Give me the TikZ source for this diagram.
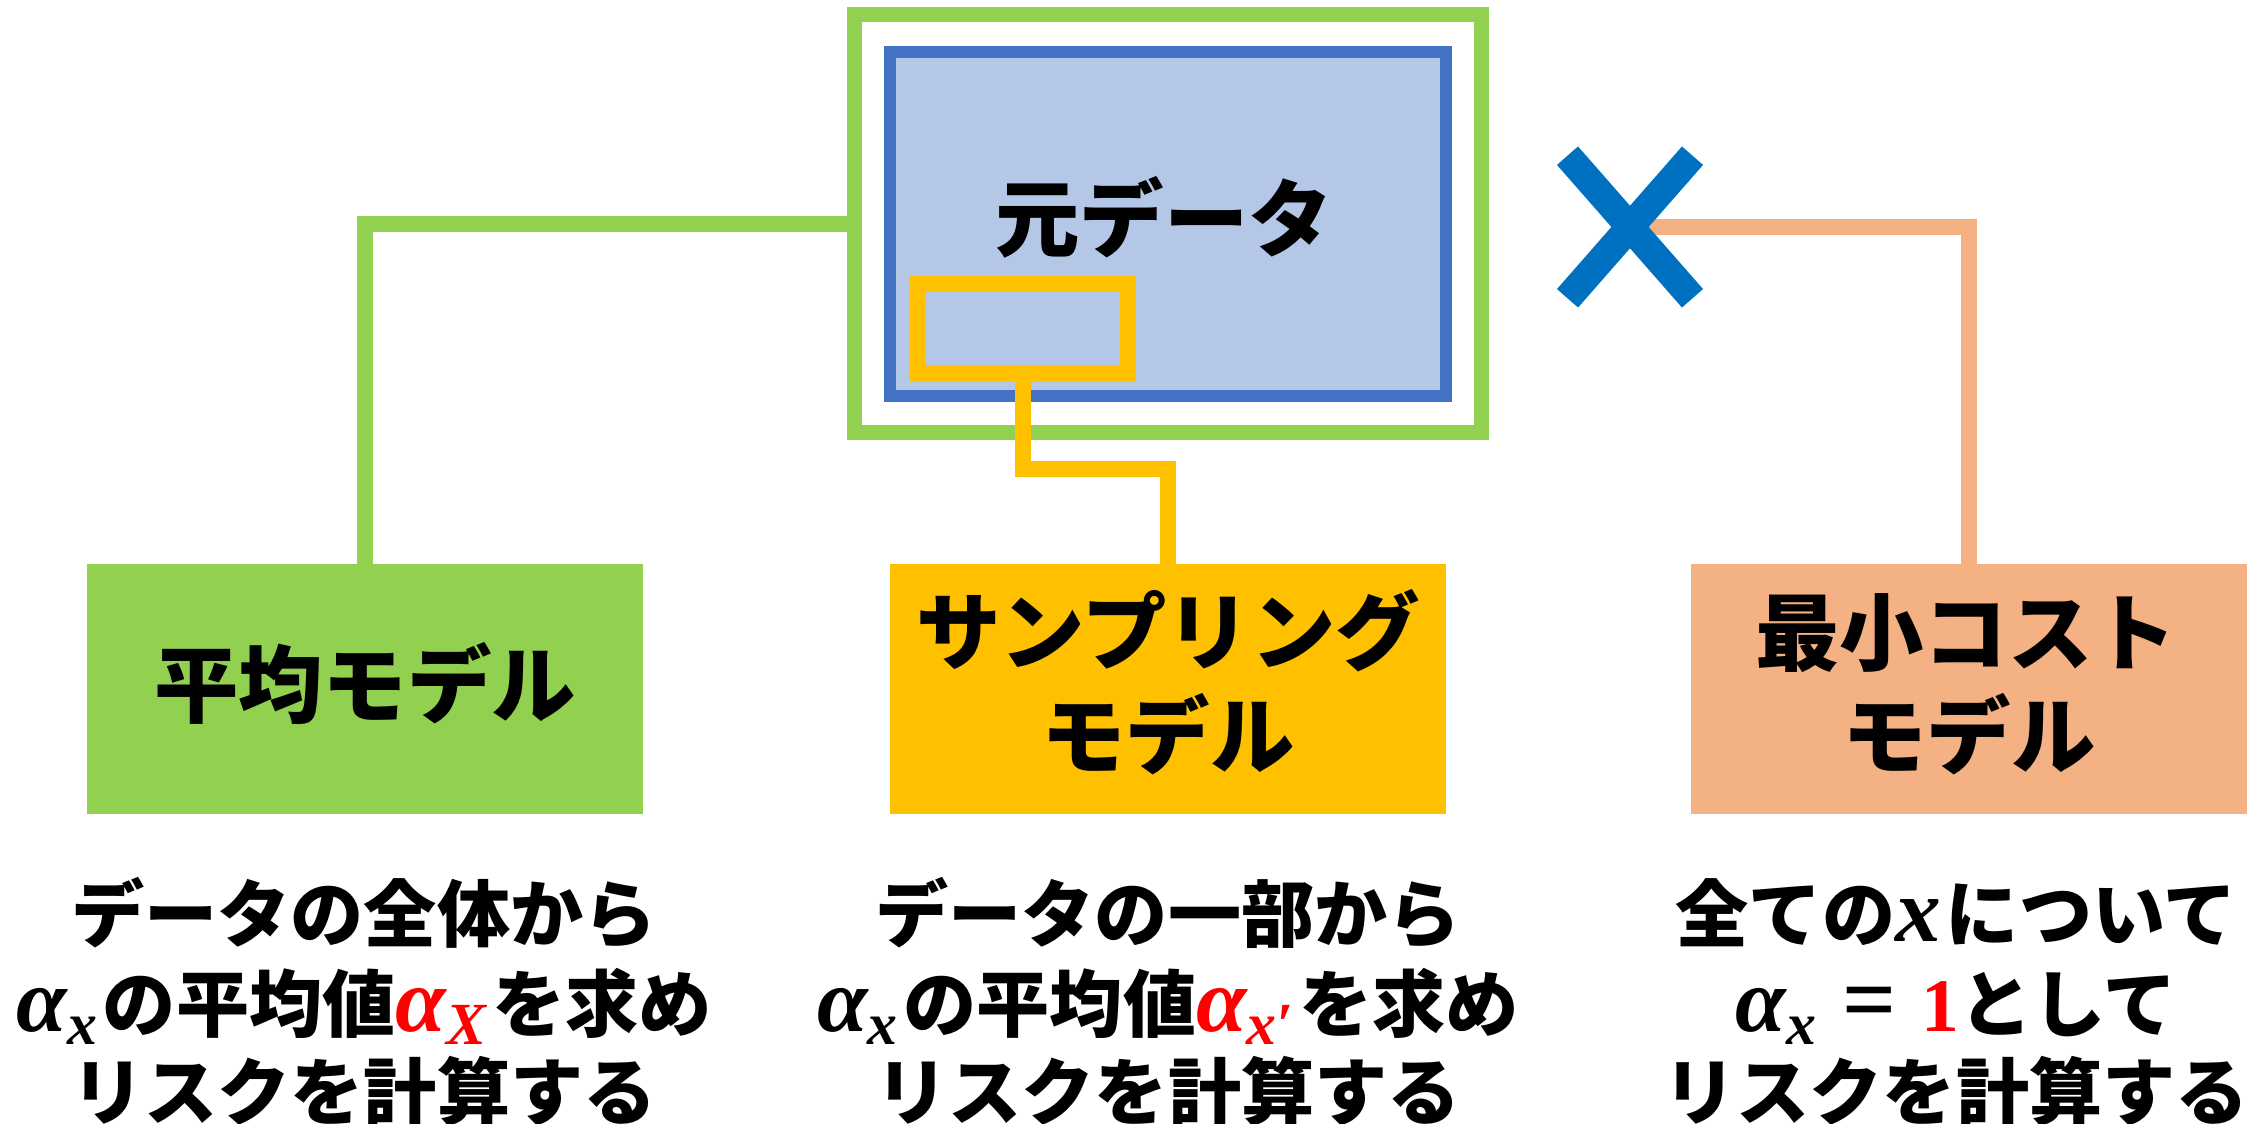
\documentclass[tikz,border=0pt]{standalone}
\usepackage{fontspec}
\newfontfamily\jp{Noto Sans CJK JP}
\newfontfamily\mif{Liberation Serif}
\definecolor{cgreen}{HTML}{92D050}
\definecolor{cyellow}{HTML}{FFC000}
\definecolor{corange}{HTML}{F4B183}
\definecolor{cblue}{HTML}{4472C4}
\definecolor{clblue}{HTML}{B4C7E7}
\definecolor{cx}{HTML}{0070C0}
\newcommand{\mv}[1]{{\mif\bfseries\itshape\fontsize{26}{26}\selectfont #1}}
\newcommand{\ms}[1]{\raisebox{-0.13cm}{\mif\bfseries\itshape\fontsize{17}{17}\selectfont #1}}
\newcommand{\alx}{\mv{α}\ms{x}\hspace{0.06cm}}
\begin{document}
\begin{tikzpicture}[x=0.01cm,y=-0.01cm,
  box/.style={minimum width=5.56cm, minimum height=2.5cm, inner sep=0pt, outer sep=0pt, draw=none},
  lbl/.style={anchor=base, inner sep=0pt, font=\jp\bfseries\fontsize{24}{29}\selectfont},
  desc/.style={anchor=base, inner sep=0pt, font=\jp\bfseries\fontsize{20.8}{25}\selectfont},
  conn/.style={line width=0.16cm},
  xline/.style={cx, line width=0.28cm}]
\useasboundingbox (0,0) rectangle (2266,1124);
% source data
\node[draw=cgreen, line width=0.15cm, minimum width=6.27cm, minimum height=4.175cm, inner sep=0pt] (all) at (1168,223.75) {};
\node[draw=cblue, fill=clblue, line width=0.12cm, minimum width=5.56cm, minimum height=3.44cm, inner sep=0pt] (orig) at (1168,224) {};
\node[lbl] (origt) at (1164,250) {元データ};
\node[draw=cyellow, fill=clblue, line width=0.16cm, minimum width=2.095cm, minimum height=0.89cm, inner sep=0pt] (part) at (1023,328.5) {};
% model boxes
\node[box, fill=cgreen] (avg) at (365,689) {};
\node[box, fill=cyellow] (samp) at (1168,689) {};
\node[box, fill=corange] (cost) at (1969,689) {};
\node[lbl] (avgt) at (365,716) {平均モデル};
\node[lbl] (sampt1) at (1168,663) {サンプリング};
\node[lbl] (sampt2) at (1168,767) {モデル};
\node[lbl] (costt1) at (1966,664) {最小コスト};
\node[lbl] (costt2) at (1969,767) {モデル};
% connectors
\coordinate (yj) at (1023,469);
\coordinate (xmark) at (1630,227);
\draw[conn, cgreen] (all.west) -| (avg.north);
\draw[conn, cyellow] (part.south) -- (yj) -| (samp.north);
\draw[conn, corange] (xmark) -| (cost.north);
\draw[xline] ([shift={(-62.5,-71.3)}]xmark) -- ([shift={(62.5,71.3)}]xmark);
\draw[xline] ([shift={(62.5,-71.3)}]xmark) -- ([shift={(-62.5,71.3)}]xmark);
% descriptions
\node[desc] (l1) at (364,941) {データの全体から};
\node[desc] (l2) at (364,1031) {\alx の平均値{\color{red}\mv{α}\ms{X}}\hspace{0.06cm}を求め};
\node[desc] (l3) at (364,1119) {リスクを計算する};
\node[desc] (m1) at (1168,941) {データの一部から};
\node[desc] (m2) at (1168,1031) {\alx の平均値{\color{red}\mv{α}\ms{x′}}\hspace{0.06cm}を求め};
\node[desc] (m3) at (1168,1119) {リスクを計算する};
\node[desc] (r1) at (1956,941) {全ての\mv{x}\hspace{0.05cm}について};
\node[desc] (r2) at (1956,1031) {\alx\hspace{0.2cm}{\mif\fontsize{27}{27}\selectfont =}\hspace{0.25cm}{\color{red}\mif\bfseries\fontsize{21.5}{21.5}\selectfont 1}として};
\node[desc] (r3) at (1956,1119) {リスクを計算する};
\end{tikzpicture}
\end{document}
